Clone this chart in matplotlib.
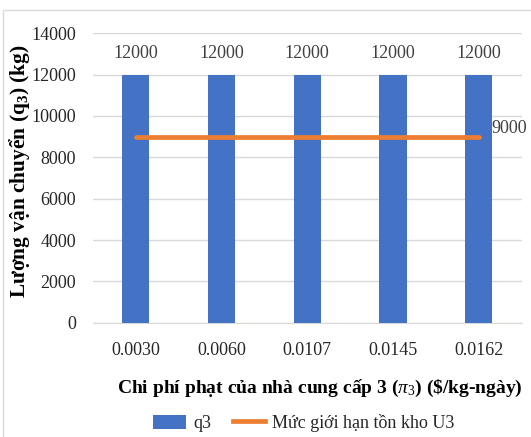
#Shipment quantity q3 vs supplier 3 penalty cost, with U3 inventory limit
import matplotlib.pyplot as plt
from matplotlib.patches import Patch, Rectangle
from matplotlib.lines import Line2D

#--------Data--------
PenaltyCosts = ["0.0030", "0.0060", "0.0107", "0.0145", "0.0162"]
Q3 = [12000, 12000, 12000, 12000, 12000]
U3Limit = [9000, 9000, 9000, 9000, 9000]
YTicks = [0, 2000, 4000, 6000, 8000, 10000, 12000, 14000]

#--------Style--------
BarColour = "#4472C4"
LineColour = "#ED7D31"
GridColour = "#D9D9D9"
TextColour = "#262626"
FontSize = 13

plt.rcParams['font.family'] = ['Liberation Serif', 'DejaVu Serif']
plt.rcParams['mathtext.fontset'] = 'custom'
plt.rcParams['mathtext.rm'] = 'Liberation Serif'
plt.rcParams['mathtext.it'] = 'Liberation Serif:italic'
plt.rcParams['mathtext.bf'] = 'Liberation Serif:bold'

Fig = plt.figure(figsize=(5.31, 4.37), dpi=100)
Ax = Fig.add_axes([0.1746, 0.2616, 0.8079, 0.6622])

X = list(range(len(PenaltyCosts)))
Bars = Ax.bar(X, Q3, width=0.315, color=BarColour, zorder=2)
Ax.plot(X, U3Limit, color=LineColour, linewidth=3.4, solid_capstyle='round', zorder=3)

#value labels
for i in X:
    Ax.annotate(str(Q3[i]), (i, Q3[i]), xytext=(0, 9), textcoords='offset points',
                ha='center', va='bottom', fontsize=FontSize, color="#404040")
Ax.annotate(str(U3Limit[-1]), (X[-1], U3Limit[-1]), xytext=(9, 6), textcoords='offset points',
            ha='left', va='center', fontsize=FontSize, color="#404040")

Ax.set_xlim(-0.5, len(PenaltyCosts) - 0.5)
Ax.set_ylim(0, 14000)
Ax.set_yticks(YTicks)
Ax.set_xticks(X)
Ax.set_xticklabels(PenaltyCosts)
Ax.tick_params(axis='both', length=0, labelsize=FontSize, colors=TextColour)
Ax.tick_params(axis='x', pad=14)
Ax.tick_params(axis='y', pad=12)
Ax.grid(axis='y', color=GridColour, linewidth=1, zorder=0)
for Side in ['top', 'right', 'left']:
    Ax.spines[Side].set_visible(False)
Ax.spines['bottom'].set_color(GridColour)
Ax.spines['bottom'].set_zorder(1)

Ax.set_xlabel("Chi phí phạt của nhà cung cấp 3 ($\\pi_3$) (\\$/kg-ngày)",
              fontsize=14, fontweight='bold', color='black')
Ax.xaxis.set_label_coords(0.53, -0.19)
Ax.set_ylabel("Lượng vận chuyển ($\\mathbf{q_3}$) (kg)",
              fontsize=15.4, fontweight='bold', color='black')
Ax.yaxis.set_label_coords(-0.142, 0.525)

Handles = [Patch(facecolor=BarColour), Line2D([], [], color=LineColour, linewidth=3.4)]
Fig.legend(Handles, ["q3", "Mức giới hạn tồn kho U3"], loc='center', bbox_to_anchor=(0.5725, 0.032),
           ncol=2, frameon=False, fontsize=FontSize, handlelength=1.8, handleheight=0.8,
           handletextpad=0.4, columnspacing=1.2, labelcolor=TextColour)

#chart border
Fig.patches.append(Rectangle((3 / 531, -0.1), 1.1, 1.1 - 10 / 437, transform=Fig.transFigure,
                             fill=False, edgecolor=GridColour, linewidth=1))

Fig.savefig("out.png", dpi=100)
